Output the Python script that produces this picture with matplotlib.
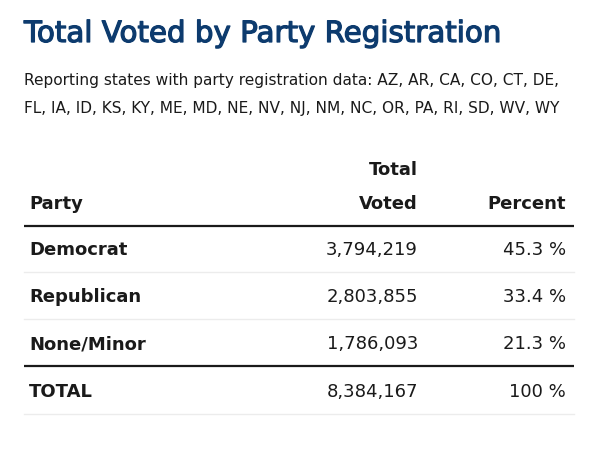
import matplotlib
matplotlib.use("Agg")
import matplotlib.pyplot as plt
import matplotlib.patheffects as pe

# ---------------------------------------------------------------------------
# Data
# ---------------------------------------------------------------------------

TITLE = "Total Voted by Party Registration"
SUBTITLE = ["Reporting states with party registration data: AZ, AR, CA, CO, CT, DE,",
            "FL, IA, ID, KS, KY, ME, MD, NE, NV, NJ, NM, NC, OR, PA, RI, SD, WV, WY"]

parties = ["Democrat", "Republican", "None/Minor", "TOTAL"]
total_voted = [3794219, 2803855, 1786093, 8384167]
percents = ["45.3 %", "33.4 %", "21.3 %", "100 %"]

NAVY = "#0d3b6e"
INK = "#1a1a1a"
FONT = "DejaVu Sans"

# ---------------------------------------------------------------------------
# Layout (pixel-like coordinates on a full-figure axes)
# ---------------------------------------------------------------------------

W, H = 604, 453
fig = plt.figure(figsize=(W / 100, H / 100), dpi=100)
ax = fig.add_axes([0, 0, 1, 1])
ax.set_xlim(0, W)
ax.set_ylim(H, 0)
ax.axis("off")

x_left, x_right = 24, 574
x_party, x_voted, x_pct = 29, 418, 566

ax.text(x_left, 34, TITLE, fontsize=21.1, color=NAVY, family=FONT,
        va="center", ha="left",
        path_effects=[pe.withStroke(linewidth=0.9, foreground=NAVY)])
for i, line in enumerate(SUBTITLE):
    ax.text(x_left, 81 + i * 27, line, fontsize=11.1, color=INK, family=FONT,
            va="center", ha="left")

# header
hdr = dict(fontsize=13, color=INK, family=FONT, fontweight="bold", va="center")
ax.text(x_voted, 170, "Total", ha="right", **hdr)
ax.text(x_party, 204, "Party", ha="left", **hdr)
ax.text(x_voted, 204, "Voted", ha="right", **hdr)
ax.text(x_pct, 204, "Percent", ha="right", **hdr)
ax.plot([x_left, x_right], [226, 226], color=INK, lw=1.6, solid_capstyle="butt")

row_y0, row_h = 250, 47.2
for i, (party, tv, pct) in enumerate(zip(parties, total_voted, percents)):
    y = row_y0 + i * row_h
    ax.text(x_party, y, party, ha="left", **hdr)
    ax.text(x_voted, y, f"{tv:,}", ha="right", va="center", fontsize=13,
            color=INK, family=FONT)
    ax.text(x_pct, y, pct, ha="right", va="center", fontsize=13,
            color=INK, family=FONT)
    sep_y = y + 22
    if i == len(parties) - 2:
        ax.plot([x_left, x_right], [sep_y, sep_y], color=INK, lw=1.6,
                solid_capstyle="butt")
    else:
        ax.plot([x_left, x_right], [sep_y, sep_y], color="#ececec", lw=1.0)

fig.savefig("out.png", dpi=100, facecolor="white")
